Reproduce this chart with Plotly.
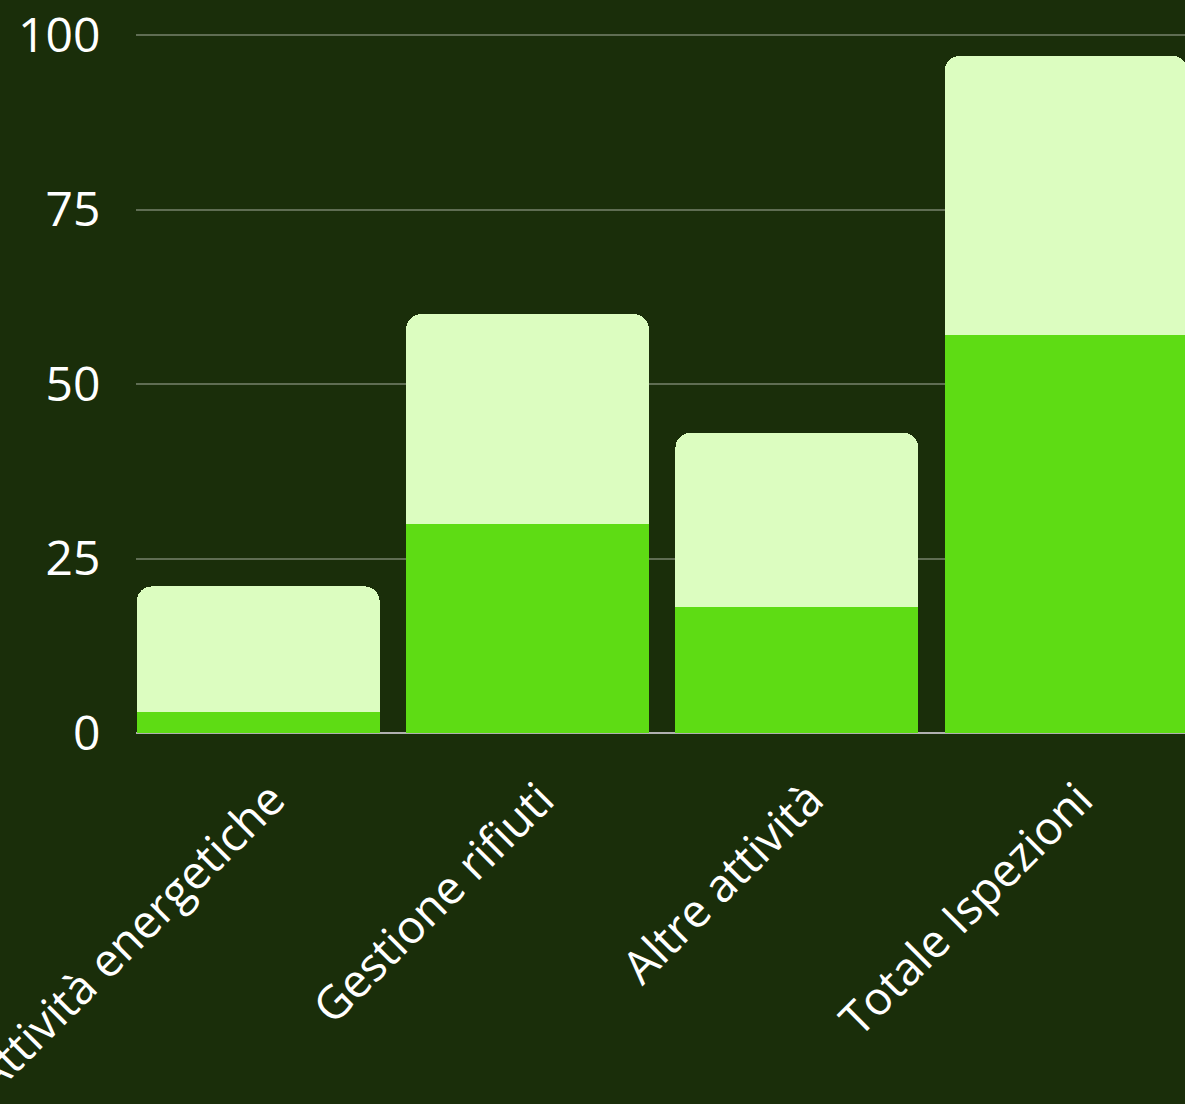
import plotly.graph_objects as go

categories = ["Attività energetiche", "Gestione rifiuti", "Altre attività", "Totale Ispezioni"]
bottom_values = [3, 30, 18, 57]
top_values = [18, 30, 25, 40]
y_ticks = [0, 25, 50, 75, 100]

BG = "#1a2e0a"
fig = go.Figure()
fig.add_trace(go.Bar(x=categories, y=bottom_values, marker=dict(color="#5edc14", line=dict(width=0)), showlegend=False))
fig.add_trace(go.Bar(x=categories, y=top_values, marker=dict(color="#dcfdc0", line=dict(width=0)), showlegend=False))

fig.update_layout(
    width=1185, height=1104,
    barmode="stack", bargap=0.098, barcornerradius=15,
    paper_bgcolor=BG, plot_bgcolor=BG,
    margin=dict(l=136, r=0, t=34, b=371, autoexpand=False),
    font=dict(family="Open Sans", size=46, color="#ffffff"),
    xaxis=dict(range=[-0.4537, 3.441], tickangle=-45, showgrid=False, showline=False, automargin=False,
               zeroline=False, ticks="outside", ticklen=20, tickcolor="rgba(0,0,0,0)",
               ticklabelshift=13, ticklabeloverflow="allow",
               tickfont=dict(size=46, color="#ffffff")),
    yaxis=dict(range=[0, 100.15], tickvals=y_ticks, showgrid=True, gridcolor="rgba(255,255,255,0.3)",
               gridwidth=1.5, zeroline=True, zerolinecolor="#b0b0b0", zerolinewidth=2, automargin=False,
               showline=False, ticks="outside", ticklen=25, tickcolor="rgba(0,0,0,0)",
               ticklabeloverflow="allow",
               tickfont=dict(size=48, color="#ffffff")),
)
fig.write_html("out.html", config={"displayModeBar": False},
               post_script="document.body.style.margin='0';document.body.style.background='%s';" % BG)
